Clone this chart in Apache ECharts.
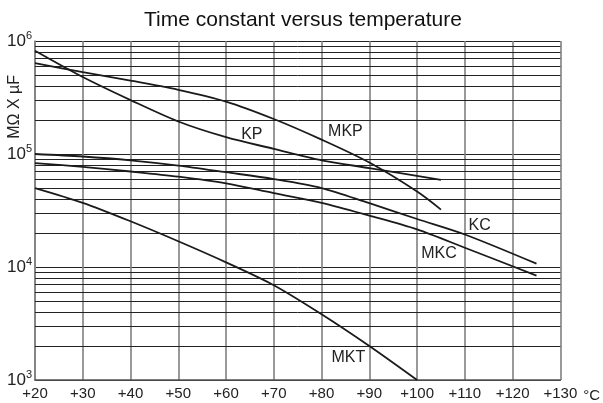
<!DOCTYPE html>
<html>
<head>
<meta charset="utf-8">
<script src="https://cdn.jsdelivr.net/npm/echarts@6/dist/echarts.min.js"></script>
<style>html,body{margin:0;padding:0;background:#fff;}#c{width:603px;height:403px;}</style>
</head>
<body>
<div id="c"></div>
<script>
// ---- data ----
const xTicks = [20, 30, 40, 50, 60, 70, 80, 90, 100, 110, 120, 130];
const yDecades = [1e3, 1e4, 1e5, 1e6];
const yMinorMultipliers = [2, 3, 4, 5, 6, 7, 8, 9];

const kpTemps  = [20, 30, 40, 50, 60, 70, 80, 90, 105];
const kpValues = [8.2e5, 4.8e5, 3.0e5, 1.94e5, 1.41e5, 1.11e5, 8.8e4, 7.5e4, 5.9e4];

const mkpTemps  = [20, 30, 40, 50, 60, 70, 80, 90, 100, 105];
const mkpValues = [6.36e5, 5.3e5, 4.47e5, 3.7e5, 2.91e5, 2.04e5, 1.34e5, 8.4e4, 4.65e4, 3.22e4];

const kcTemps  = [20, 30, 40, 50, 60, 70, 80, 90, 100, 110, 125];
const kcValues = [1.0e5, 9.5e4, 8.8e4, 7.9e4, 6.9e4, 6.0e4, 5.0e4, 3.67e4, 2.66e4, 1.94e4, 1.07e4];

const mkcTemps  = [20, 30, 40, 50, 60, 70, 80, 90, 100, 110, 125];
const mkcValues = [8.3e4, 7.7e4, 7.0e4, 6.3e4, 5.5e4, 4.5e4, 3.7e4, 2.85e4, 2.15e4, 1.48e4, 8.4e3];

const mktTemps  = [20, 30, 40, 50, 60, 70, 80, 90, 100];
const mktValues = [5.0e4, 3.7e4, 2.54e4, 1.69e4, 1.1e4, 6.9e3, 3.82e3, 2.0e3, 1.0e3];

// curve label anchor positions [temperature, value]
const labelNames = ['KP', 'MKP', 'KC', 'MKC', 'MKT'];
const labelTemps = [65.4, 85, 113.1, 104.6, 85.6];
const labelValues = [1.48e5, 1.57e5, 2.33e4, 1.32e4, 1.59e3];

// ---- build ----
const FONT = '"Liberation Sans", Arial, sans-serif';
function pairs(t, v) { return t.map((x, i) => [x, v[i]]); }
const minorLines = [];
yDecades.slice(0, -1).forEach(d => yMinorMultipliers.forEach(m => minorLines.push({ yAxis: d * m })));

const curves = [
  ['KP', kpTemps, kpValues],
  ['MKP', mkpTemps, mkpValues],
  ['KC', kcTemps, kcValues],
  ['MKC', mkcTemps, mkcValues],
  ['MKT', mktTemps, mktValues]
];

const series = curves.map(([name, t, v]) => ({
  name, type: 'line', data: pairs(t, v), smooth: 0.3, showSymbol: false,
  lineStyle: { color: '#1a1a1a', width: 1.8 }, z: 5
}));

series.push({
  type: 'line', data: [], silent: true,
  markLine: {
    silent: true, symbol: ['none', 'none'], label: { show: false },
    lineStyle: { color: '#222', width: 1, type: 'solid' },
    data: minorLines, animation: false
  },
  markPoint: {
    symbol: 'circle', symbolSize: 0,
    label: { show: true, color: '#222', fontSize: 16, fontFamily: FONT, position: 'inside' },
    data: labelNames.map((n, i) => ({ coord: [labelTemps[i], labelValues[i]], value: n, label: { formatter: n } }))
  }
});

const chart = echarts.init(document.getElementById('c'), null, { renderer: 'canvas' });
chart.setOption({
  animation: false,
  backgroundColor: '#fff',
  title: {
    text: 'Time constant versus temperature', left: 139, top: 5,
    textStyle: { fontSize: 21, fontWeight: 'normal', color: '#111', fontFamily: FONT }
  },
  grid: { left: 35, right: 40, top: 41, bottom: 22, containLabel: false },
  xAxis: {
    type: 'value', min: xTicks[0], max: xTicks[xTicks.length - 1], interval: 10,
    axisLine: { lineStyle: { color: '#555', width: 1.5 } },
    axisTick: { show: false },
    axisLabel: { color: '#222', fontSize: 15, fontFamily: FONT, margin: 6, formatter: v => '+' + v },
    splitLine: { show: true, lineStyle: { color: '#808080', width: 1.6 } },
    name: '°C', nameLocation: 'end', nameGap: 17,
    nameTextStyle: { color: '#222', fontSize: 15, fontFamily: FONT, verticalAlign: 'top', padding: [8, 0, 0, 0] }
  },
  yAxis: {
    type: 'log', logBase: 10, min: yDecades[0], max: yDecades[yDecades.length - 1],
    axisLine: { show: true, lineStyle: { color: '#808080', width: 1.6 } },
    axisTick: { show: false },
    axisLabel: {
      margin: 3, color: '#222', fontFamily: FONT,
      formatter: v => '{b|10}{s|' + Math.round(Math.log10(v)) + '}',
      rich: {
        b: { fontSize: 17, color: '#222', fontFamily: FONT },
        s: { fontSize: 11, color: '#222', fontFamily: FONT, padding: [0, 0, 11, 0] }
      }
    },
    splitLine: { show: true, lineStyle: { color: '#222', width: 1 } }
  },
  graphic: [{
    type: 'text', left: 7, top: 75, rotation: Math.PI / 2, originX: 0, originY: 0,
    style: { text: 'MΩ X µF', fill: '#222', fontSize: 16, fontFamily: FONT }
  }],
  series
});
</script>
</body>
</html>
